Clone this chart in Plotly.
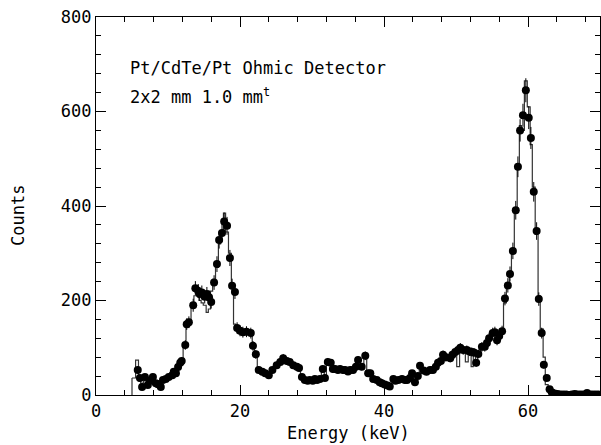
import numpy as np
import plotly.graph_objects as go

energy = [5.8, 6.1, 6.4, 6.8, 7.2, 7.5, 7.9, 8.3, 8.6, 9.0, 9.3, 9.7, 10.1, 10.6, 10.8,
          11.1, 11.4, 11.7, 11.9, 12.4, 12.6, 12.9, 13.5, 13.8, 14.2, 14.4, 14.7, 15.1,
          15.4, 15.7, 16.0, 16.4, 16.8, 17.1, 17.5, 17.8, 18.2, 18.6, 18.9, 19.3, 19.6,
          20.0, 20.4, 20.9, 21.5, 21.8, 22.2, 22.6, 23.1, 23.5, 24.0, 24.5, 25.1, 25.6,
          26.0, 26.5, 26.9, 27.4, 27.9, 28.2, 28.6, 29.0, 29.4, 29.7, 30.1, 30.4, 30.7,
          31.1, 31.5, 31.8, 32.2, 32.6, 32.9, 33.2, 33.6, 33.9, 34.3, 34.6, 35.0, 35.3,
          35.7, 36.1, 36.4, 36.9, 37.4, 37.8, 38.1, 38.5, 39.0, 39.4, 39.7, 40.1, 40.5,
          40.8, 41.3, 41.6, 42.0, 42.5, 42.9, 43.2, 43.6, 43.9, 44.3, 44.7, 45.0, 45.5,
          45.9, 46.4, 46.8, 47.2, 47.5, 47.9, 48.2, 48.6, 49.2, 49.5, 49.9, 50.3, 50.6,
          51.0, 51.5, 51.9, 52.2, 52.5, 52.8, 53.1, 53.6, 54.0, 54.3, 54.6, 55.1, 55.4,
          55.7, 56.0, 56.4, 56.8, 57.2, 57.5, 57.9, 58.3, 58.6, 58.9, 59.3, 59.7, 60.1,
          60.4, 60.8, 61.2, 61.5, 61.9, 62.2, 62.6, 63.0, 63.3, 63.7, 64.1, 64.5, 64.9,
          65.3, 65.7, 66.1, 66.5, 66.9, 67.3, 67.7, 68.2, 68.6, 69.0, 69.4, 69.8]

counts = [53, 36, 17, 38, 21, 30, 38, 25, 23, 17, 32, 34, 38, 42, 49,
          46, 59, 68, 72, 106, 150, 154, 190, 226, 220, 214, 217, 208,
          214, 207, 197, 238, 277, 328, 343, 367, 358, 290, 231, 218, 142,
          136, 133, 134, 131, 104, 86, 53, 49, 46, 42, 53, 63, 70,
          78, 72, 70, 63, 60, 57, 38, 32, 30, 32, 30, 34, 32,
          34, 55, 36, 70, 68, 55, 55, 53, 55, 53, 53, 50, 53,
          53, 60, 74, 60, 83, 46, 46, 34, 32, 27, 25, 22, 20,
          18, 34, 30, 32, 34, 32, 32, 36, 46, 27, 40, 62, 52,
          49, 53, 53, 60, 68, 72, 85, 80, 78, 85, 91, 95, 100,
          95, 95, 92, 91, 90, 68, 87, 102, 102, 110, 120, 131, 133,
          116, 125, 135, 204, 232, 256, 305, 391, 483, 560, 592, 645, 587,
          544, 430, 347, 203, 131, 64, 36, 12, 6, 3, 2, 1, 1,
          1, 0, 1, 2, 1, 1, 1, 4, 1, 1, 1, 1]

hist_energy = [5.0, 5.5, 5.9, 6.2, 6.6, 7.0, 7.3, 7.7, 8.1, 8.4, 8.8, 9.1, 9.5, 9.9, 10.4,
               10.9, 11.2, 11.5, 11.8, 12.1, 12.5, 12.8, 13.2, 13.6, 14.0, 14.3, 14.6, 14.9,
               15.3, 15.6, 15.9, 16.2, 16.6, 17.0, 17.3, 17.7, 18.0, 18.4, 18.8, 19.1, 19.4,
               19.8, 20.2, 20.7, 21.2, 21.7, 22.0, 22.4, 22.8, 23.3, 23.8, 24.3, 24.8, 25.4,
               25.8, 26.3, 26.7, 27.2, 27.7, 28.1, 28.4, 28.8, 29.2, 29.6, 29.9, 30.3, 30.6,
               30.9, 31.3, 31.7, 32.0, 32.4, 32.8, 33.1, 33.4, 33.8, 34.1, 34.5, 34.8, 35.2,
               35.5, 35.9, 36.3, 36.7, 37.2, 37.6, 38.0, 38.3, 38.8, 39.2, 39.6, 39.9, 40.3,
               40.7, 41.1, 41.5, 41.8, 42.3, 42.7, 43.1, 43.4, 43.8, 44.1, 44.5, 44.9, 45.3,
               45.7, 46.2, 46.6, 47.0, 47.4, 47.7, 48.1, 48.4, 48.9, 49.4, 49.7, 50.1, 50.5,
               50.8, 51.3, 51.7, 52.1, 52.4, 52.7, 53.0, 53.4, 53.8, 54.2, 54.5, 54.9, 55.3,
               55.6, 55.9, 56.2, 56.6, 57.0, 57.4, 57.7, 58.1, 58.5, 58.8, 59.1, 59.5, 59.9,
               60.3, 60.6, 61.0, 61.4, 61.7, 62.1, 62.4, 62.8, 63.2, 63.5, 63.9, 64.3, 64.7,
               65.1, 65.5, 65.9, 66.3, 66.7, 67.1, 67.5, 68.0, 68.4, 68.8, 69.2, 69.6]

hist_counts = [36, 74, 30, 25, 30, 20, 28, 35, 22, 30, 20, 35, 38, 36, 40,
               40, 55, 62, 75, 100, 145, 160, 185, 210, 225, 200, 195, 190,
               175, 182, 220, 245, 270, 320, 340, 385, 345, 300, 235, 150, 140,
               138, 130, 136, 128, 100, 84, 55, 50, 44, 45, 50, 65, 72,
               75, 74, 68, 65, 58, 55, 40, 33, 28, 34, 31, 33, 30,
               36, 50, 40, 68, 65, 57, 52, 55, 52, 55, 50, 52, 55,
               50, 62, 70, 63, 78, 50, 44, 36, 30, 28, 24, 20, 22,
               20, 30, 32, 30, 35, 30, 34, 35, 44, 30, 42, 58, 55,
               50, 50, 56, 58, 66, 74, 82, 84, 76, 88, 88, 60, 98,
               92, 70, 94, 60, 92, 72, 90, 98, 105, 112, 118, 128, 135,
               120, 128, 140, 195, 235, 260, 300, 395, 480, 570, 560, 665, 610,
               530, 440, 340, 210, 140, 80, 22, 14, 5, 3, 2, 1, 1,
               1, 1, 1, 1, 1, 1, 1, 2, 1, 1, 1, 1]

errors = np.sqrt(np.array(counts, dtype=float))

fig = go.Figure()
fig.add_trace(go.Scatter(
    x=hist_energy + [70.0], y=hist_counts + [hist_counts[-1]],
    mode="lines", line=dict(shape="hv", color="#333333", width=1.2),
    hoverinfo="skip", showlegend=False))
fig.add_trace(go.Scatter(
    x=[5.0, 5.0], y=[0, hist_counts[0]], mode="lines",
    line=dict(color="#333333", width=1.2), showlegend=False))
fig.add_trace(go.Scatter(
    x=energy, y=counts, mode="markers",
    marker=dict(color="black", size=8),
    error_y=dict(type="data", array=errors, color="black", thickness=1, width=0),
    showlegend=False))

font = dict(family="DejaVu Sans Mono", size=17, color="black")
axis_common = dict(ticks="inside", ticklen=10, tickwidth=1, tickcolor="black",
                   showline=True, linecolor="black", linewidth=1.2,
                   mirror="allticks", showgrid=False, zeroline=False, tickfont=font)
fig.update_layout(
    width=601, height=445,
    margin=dict(l=96, r=1, t=17, b=50, autoexpand=False),
    paper_bgcolor="white", plot_bgcolor="white",
    font=font,
    xaxis=dict(range=[0, 70], dtick=20, tick0=0,
               minor=dict(dtick=4, ticks="inside", ticklen=5, tickcolor="black", showgrid=False),
               **axis_common),
    yaxis=dict(range=[0, 800], dtick=200, tick0=0,
               minor=dict(dtick=40, ticks="inside", ticklen=5, tickcolor="black", showgrid=False),
               **axis_common),
    annotations=[
        dict(text="Pt/CdTe/Pt Ohmic Detector", x=0.063, y=0.865, xref="paper", yref="paper",
             xanchor="left", yanchor="middle", showarrow=False, font=font),
        dict(text="2x2 mm 1.0 mm<sup>t</sup>", x=0.063, y=0.79, xref="paper", yref="paper",
             xanchor="left", yanchor="middle", showarrow=False, font=font),
        dict(text="Energy (keV)", x=0.5, y=-0.1005, xref="paper", yref="paper",
             xanchor="center", yanchor="middle", showarrow=False, font=font),
        dict(text="Counts", x=-0.155, y=0.476, xref="paper", yref="paper", textangle=-90,
             xanchor="center", yanchor="middle", showarrow=False, font=font),
    ],
)
fig.write_html("out.html", config={"displayModeBar": False},
               post_script="document.body.style.margin='0';document.body.style.padding='0';")
